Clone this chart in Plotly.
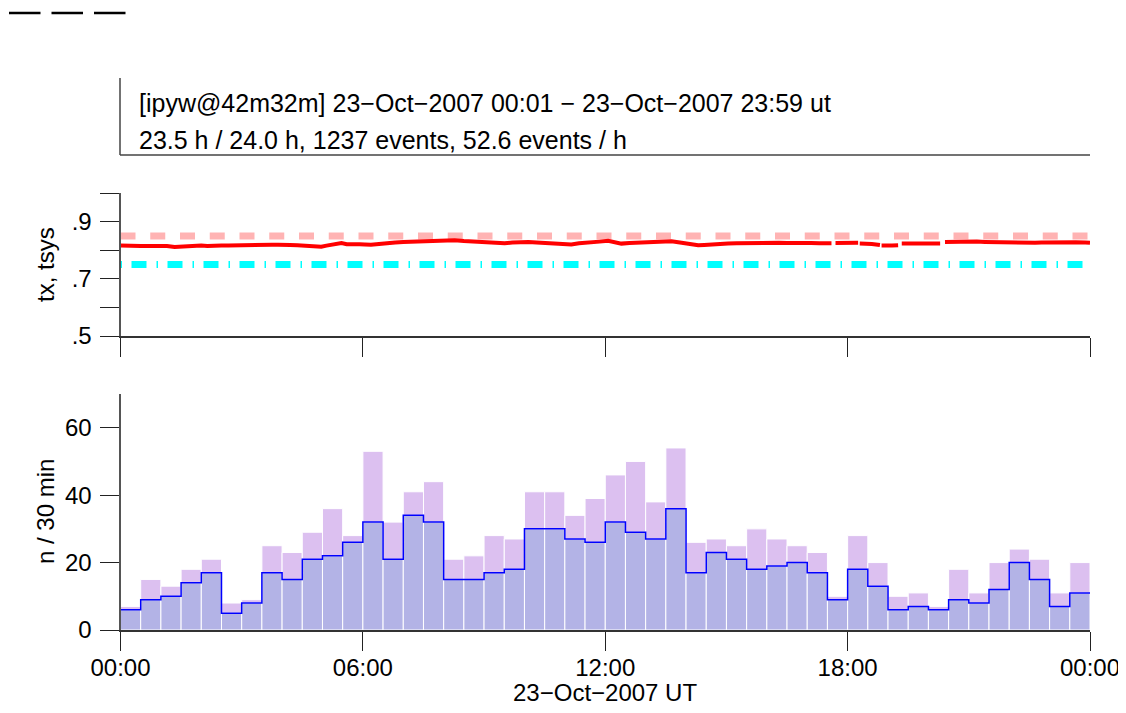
import plotly.graph_objects as go

# ---------------- data ----------------
bin_labels = ["00:00", "00:30", "01:00", "01:30", "02:00", "02:30", "03:00", "03:30",
              "04:00", "04:30", "05:00", "05:30", "06:00", "06:30", "07:00", "07:30",
              "08:00", "08:30", "09:00", "09:30", "10:00", "10:30", "11:00", "11:30",
              "12:00", "12:30", "13:00", "13:30", "14:00", "14:30", "15:00", "15:30",
              "16:00", "16:30", "17:00", "17:30", "18:00", "18:30", "19:00", "19:30",
              "20:00", "20:30", "21:00", "21:30", "22:00", "22:30", "23:00", "23:30"]
n_total = [7, 15, 13, 18, 21, 8, 9, 25, 23, 29, 36, 28, 53, 32, 41, 44,
           21, 22, 28, 27, 41, 41, 34, 39, 46, 50, 38, 54, 26, 27, 25, 30,
           27, 25, 23, 10, 28, 20, 10, 11, 7, 18, 11, 20, 24, 21, 11, 20]
n_sub = [6, 9, 10, 14, 17, 5, 8, 17, 15, 21, 22, 26, 32, 21, 34, 32,
         15, 15, 17, 18, 30, 30, 27, 26, 32, 29, 27, 36, 17, 23, 21, 18,
         19, 20, 17, 9, 18, 13, 6, 7, 6, 9, 8, 12, 20, 15, 7, 11]

tx_hours = [0.0, 0.2, 0.33, 0.5, 0.67, 0.85, 1.0, 1.15, 1.34, 1.5, 1.67, 1.85, 2.0,
            2.15, 2.33, 2.5, 2.67, 2.85, 3.0, 3.15, 3.33, 3.57, 3.75, 3.9, 4.05,
            4.2, 4.38, 4.6, 4.8, 4.97, 5.1, 5.2, 5.35, 5.47, 5.6, 5.7, 5.92, 6.05,
            6.2, 6.4, 6.62, 6.8, 7.0, 7.2, 7.45, 7.7, 7.9, 8.1, 8.27, 8.5, 8.69, 8.9,
            9.1, 9.3, 9.51, 9.7, 9.92, 10.1, 10.3, 10.5, 10.75, 10.95, 11.16, 11.35,
            11.57, 11.7, 11.86, 12.07, 12.25, 12.4, 12.6, 12.8, 12.98, 13.15, 13.3,
            13.5, 13.64, 13.89, 14.1, 14.3, 14.45, 14.6, 14.8, 15.04, 15.25, 15.5,
            15.7, 15.87, 16.1, 16.3, 16.5, 16.69, 16.9, 17.1, 17.3, 17.44, 17.6,
            17.65, 17.7, 17.85, 18.0, 18.15, 18.26, 18.28, 18.3, 18.45, 18.6, 18.8,
            18.82, 18.84, 19.0, 19.1, 19.25, 19.3, 19.34, 19.55, 19.8, 20.05, 20.29,
            20.35, 20.41, 20.6, 20.8, 20.99, 21.2, 21.4, 21.6, 21.81, 22.0, 22.2,
            22.4, 22.64, 22.8, 23.0, 23.2, 23.46, 23.65, 23.88, 24.0]
tx_values = [0.816, 0.817, 0.816, 0.815, 0.815, 0.816, 0.814, 0.815, 0.811, 0.813,
             0.814, 0.815, 0.816, 0.815, 0.817, 0.816, 0.816, 0.817, 0.818, 0.817,
             0.818, 0.820, 0.819, 0.819, 0.820, 0.818, 0.817, 0.816, 0.815, 0.812,
             0.816, 0.818, 0.823, 0.825, 0.821, 0.822, 0.821, 0.820, 0.819, 0.822,
             0.826, 0.827, 0.829, 0.830, 0.832, 0.831, 0.833, 0.834, 0.835, 0.832,
             0.830, 0.829, 0.827, 0.826, 0.824, 0.827, 0.830, 0.829, 0.827, 0.826,
             0.824, 0.822, 0.820, 0.824, 0.828, 0.829, 0.830, 0.833, 0.827, 0.823,
             0.825, 0.826, 0.826, 0.828, 0.828, 0.830, 0.831, 0.826, 0.820, 0.817,
             0.818, 0.820, 0.821, 0.823, 0.824, 0.825, 0.824, 0.826, 0.825, 0.826,
             0.825, 0.826, 0.824, 0.825, 0.824, 0.823, 0.824, None, 0.825, 0.826,
             0.826, 0.825, 0.826, None, 0.823, 0.823, 0.822, 0.818, None, 0.816,
             0.815, 0.816, 0.817, None, 0.823, 0.823, 0.824, 0.824, 0.823, None,
             0.829, 0.830, 0.830, 0.831, 0.830, 0.829, 0.828, 0.828, 0.827, 0.828,
             0.827, 0.826, 0.827, 0.828, 0.828, 0.829, 0.828, 0.827, 0.826]

ref_hours = [0, 24]
tx_ref = [0.85, 0.85]
tsys_ref = [0.75, 0.75]

x_tick_vals = [0, 6, 12, 18, 24]
x_tick_text = ["00:00", "06:00", "12:00", "18:00", "00:00"]
header_line1 = "[ipyw@42m32m] 23\u2212Oct\u22122007 00:01 \u2212 23\u2212Oct\u22122007 23:59 ut"
header_line2 = "23.5 h / 24.0 h, 1237 events, 52.6 events / h"
x_title = "23\u2212Oct\u22122007 UT"

# ---------------- derived ----------------
def to_hours(label):
    h, m = label.split(":")
    return int(h) + int(m) / 60.0

bin_start = [to_hours(s) for s in bin_labels]
bin_center = [b + 0.25 for b in bin_start]
step_x = bin_start + [24.0]
step_y = n_sub + [n_sub[-1]]

OFF = 8  # page body margin offset
W, H = 1126 - OFF, 713 - OFF
FONT = "Liberation Sans, Arial, sans-serif"
FS = 24
FSH = 25


def px(x):
    return (x - OFF) / W


def py(y):
    return 1 - (y - OFF) / H


fig = go.Figure()

# top panel
fig.add_trace(go.Scatter(x=ref_hours, y=tx_ref, mode="lines", xaxis="x", yaxis="y",
                         line=dict(color="#ffb3b3", width=7, dash="15px,14.75px"),
                         hoverinfo="skip"))
fig.add_trace(go.Scatter(x=ref_hours, y=tsys_ref, mode="lines", xaxis="x", yaxis="y",
                         line=dict(color="#00ffff", width=7, dash="1.5px,9.5px,15px,10px"),
                         hoverinfo="skip"))
fig.add_trace(go.Scatter(x=tx_hours, y=tx_values, mode="lines", xaxis="x", yaxis="y",
                         connectgaps=False,
                         line=dict(color="#ff0000", width=4)))

# bottom panel
fig.add_trace(go.Bar(x=bin_center, y=n_total, width=0.5, xaxis="x2", yaxis="y2",
                     marker=dict(color="#dcc0f0", line=dict(color="white", width=1))))
fig.add_trace(go.Bar(x=bin_center, y=n_sub, width=0.5, xaxis="x2", yaxis="y2",
                     marker=dict(color="#b3b3e6", line=dict(color="white", width=1))))
fig.add_trace(go.Scatter(x=step_x, y=step_y, mode="lines", xaxis="x2", yaxis="y2",
                         line=dict(color="#0000ff", width=1.5, shape="hv")))

xdom = [px(120.5), px(1090)]
ydom_top = [py(336), py(193)]
ydom_bot = [py(630), py(394)]

axis_common = dict(showgrid=False, zeroline=False, ticks="outside", ticklen=19,
                   tickwidth=1.3, tickcolor="#222", automargin=False,
                   tickfont=dict(family=FONT, size=FS, color="black"))

fig.update_layout(
    template="none",
    width=W, height=H, autosize=False,
    margin=dict(l=0, r=0, t=0, b=0, pad=0),
    paper_bgcolor="white", plot_bgcolor="white",
    showlegend=False, barmode="overlay",
    font=dict(family=FONT, size=FS, color="black"),
    xaxis=dict(domain=xdom, range=[0, 24], anchor="y", tickvals=x_tick_vals,
               showticklabels=False, showline=True, linecolor="#333", linewidth=1.5,
               **axis_common),
    yaxis=dict(domain=ydom_top, range=[0.5, 1.0], anchor="x",
               tickvals=[0.5, 0.6, 0.7, 0.8, 0.9, 1.0],
               ticktext=[".5", "", ".7", "", ".9", ""], ticklabelstandoff=3,
               showline=True, linecolor="#555", linewidth=2, **axis_common),
    xaxis2=dict(domain=xdom, range=[0, 24], anchor="y2", tickvals=x_tick_vals,
                ticktext=x_tick_text, ticklabelstandoff=-4, ticklabeloverflow="allow",
                showline=True, linecolor="#333", linewidth=1.5,
                **axis_common),
    yaxis2=dict(domain=ydom_bot, range=[0, 70], anchor="x2",
                tickvals=[0, 20, 40, 60], ticklabelstandoff=3,
                showline=True, linecolor="#555", linewidth=2, **axis_common),
)

# header box
fig.add_shape(type="line", xref="paper", yref="paper",
              x0=px(120), x1=px(120), y0=py(78), y1=py(155),
              line=dict(color="#444", width=1.5))
fig.add_shape(type="line", xref="paper", yref="paper",
              x0=px(120), x1=px(1090), y0=py(155), y1=py(155),
              line=dict(color="#444", width=1.5))
# top-left dashed sample
fig.add_shape(type="line", xref="paper", yref="paper",
              x0=px(9), x1=px(126), y0=py(13), y1=py(13),
              line=dict(color="black", width=2.5, dash="31.5px,11px"))

fig.add_annotation(text=header_line1, xref="paper", yref="paper",
                   x=px(137), y=py(103), xanchor="left", yanchor="middle",
                   showarrow=False, font=dict(family=FONT, size=FSH, color="black"))
fig.add_annotation(text=header_line2, xref="paper", yref="paper",
                   x=px(137), y=py(140), xanchor="left", yanchor="middle",
                   showarrow=False, font=dict(family=FONT, size=FSH, color="black"))

fig.add_annotation(text="tx, tsys", xref="paper", yref="paper",
                   x=px(45), y=py(265), textangle=-90, xanchor="center",
                   yanchor="middle", showarrow=False,
                   font=dict(family=FONT, size=FS, color="black"))
fig.add_annotation(text="n / 30 min", xref="paper", yref="paper",
                   x=px(45), y=py(512), textangle=-90, xanchor="center",
                   yanchor="middle", showarrow=False,
                   font=dict(family=FONT, size=FS, color="black"))
fig.add_annotation(text=x_title, xref="paper", yref="paper",
                   x=px(605), y=py(692), xanchor="center", yanchor="middle",
                   showarrow=False, font=dict(family=FONT, size=FS, color="black"))

fig.write_html("out.html")
